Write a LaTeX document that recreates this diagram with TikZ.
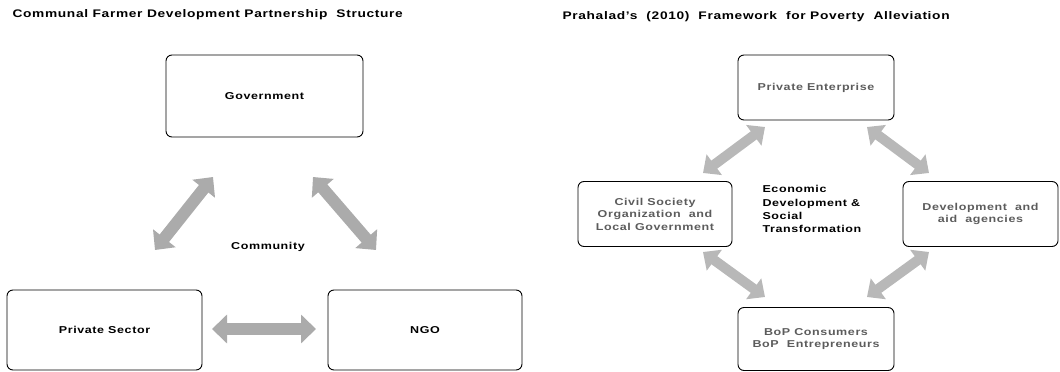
\documentclass[tikz,border=0pt]{standalone}
\usepackage{fontspec}
\setmainfont{Liberation Sans}[FakeStretch=1.25, LetterSpace=6]
\usetikzlibrary{arrows.meta}
\definecolor{arrowgray}{HTML}{ABABAB}
\definecolor{textgray}{HTML}{5C5C5C}
\tikzset{
	box/.style={draw, rounded corners=6pt, line width=0.9pt, align=center, font=\bfseries\fontsize{10}{12.5}\selectfont},
	rbox/.style={box, text=textgray, minimum width=156pt, minimum height=65pt},
	dblarrow/.style={draw=arrowgray, line width=12pt, {Triangle[width=28pt,length=15pt]}-{Triangle[width=28pt,length=15pt]}},
	rarrow/.style={draw=arrowgray!85, line width=10pt, {Triangle[width=25pt,length=14pt]}-{Triangle[width=25pt,length=14pt]}},
	heading/.style={anchor=west, font=\bfseries\fontsize{11}{13}\selectfont}
}
\begin{document}
\begin{tikzpicture}[x=1pt, y=-1pt]
		\useasboundingbox (0, 0) rectangle (1060, 372);
		% left: partnership structure
		\node[heading] (ltitle) at (9, 15) {Communal Farmer Development Partnership\ \ Structure};
		\node[box, minimum width=197pt, minimum height=82pt] (gov) at (264.5, 96) {Government};
		\node[box, minimum width=195pt, minimum height=80pt] (priv) at (104.5, 330) {Private Sector};
		\node[box, minimum width=194pt, minimum height=80pt] (ngo) at (425, 330) {NGO};
		\node[font=\bfseries\fontsize{10}{12}\selectfont] (comm) at (268, 247) {Community};
		\coordinate (pg1) at (155, 250);
		\coordinate (pg2) at (213, 177);
		\coordinate (ng1) at (376, 250);
		\coordinate (ng2) at (313, 177);
		\coordinate (pn1) at (212, 329);
		\coordinate (pn2) at (316, 329);
		\foreach \a/\b in {pg1/pg2, ng1/ng2, pn1/pn2}{
			\draw[dblarrow] (\a) -- (\b);
		}
		% right: framework for poverty alleviation
		\node[heading] (rtitle) at (559, 17) {Prahalad's\ \ (2010)\ \ Framework\ \ for Poverty\ \ Alleviation};
		\node[rbox] (ent) at (816, 87.5) {Private Enterprise};
		\node[rbox, minimum width=154pt] (civil) at (655, 214) {Civil Society\\Organization\ \ and\\Local Government};
		\node[rbox, minimum width=155pt] (dev) at (980.5, 214) {Development\ \ and\\aid\ \ agencies};
		\node[rbox, minimum height=63pt] (bop) at (816, 339) {BoP Consumers\\BoP\ \ Entrepreneurs};
		\node[anchor=north west, align=left, font=\bfseries\fontsize{10}{13.3}\selectfont] (core) at (759, 182) {Economic\\Development \&\\Social\\Transformation};
		\coordinate (ce1) at (703, 173);
		\coordinate (ce2) at (765, 127);
		\coordinate (ed1) at (867, 127);
		\coordinate (ed2) at (929, 173);
		\coordinate (cb1) at (703, 252);
		\coordinate (cb2) at (765, 297);
		\coordinate (db1) at (929, 252);
		\coordinate (db2) at (867, 297);
		\foreach \a/\b in {ce1/ce2, ed1/ed2, cb1/cb2, db1/db2}{
			\draw[rarrow] (\a) -- (\b);
		}
	\end{tikzpicture}
\end{document}
